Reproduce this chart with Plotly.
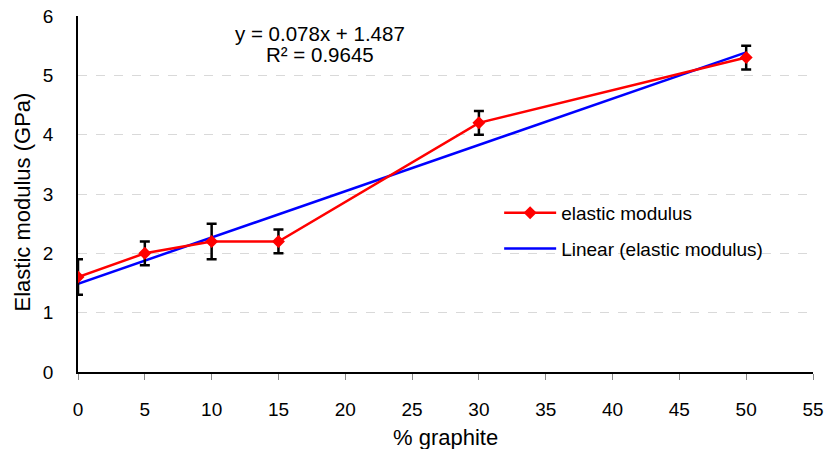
import plotly.graph_objects as go
import numpy as np

graphite = [0, 5, 10, 15, 30, 50]
modulus = [1.6, 2.0, 2.2, 2.2, 4.2, 5.3]
err = [0.3, 0.2, 0.3, 0.2, 0.2, 0.2]
slope = 0.078
intercept = 1.487
r2 = 0.9645

fit_x = [min(graphite), max(graphite)]
fit_y = [slope * v + intercept for v in fit_x]

FAM = "Liberation Sans, Arial, sans-serif"
font = dict(family=FAM, size=19, color="black")

fig = go.Figure()
fig.add_trace(go.Scatter(
    x=fit_x, y=fit_y, mode="lines", name="Linear (elastic modulus)",
    line=dict(color="#0000ff", width=2.5), legendgroup="b", legendrank=2,
))
fig.add_trace(go.Scatter(
    x=graphite, y=modulus, mode="lines+markers", name="elastic modulus",
    line=dict(color="#ff0000", width=2.5),
    marker=dict(symbol="diamond", size=10, color="#ff0000"),
    error_y=dict(type="data", array=err, visible=True, color="black", thickness=2.5, width=5),
    legendgroup="a", legendrank=1,
))

ann = dict(xref="paper", yref="paper", showarrow=False, xanchor="center", yanchor="middle")
fig.add_annotation(x=0.329, y=0.951, text=f"y = {slope}x + {intercept}", font=dict(size=20.5), **ann)
fig.add_annotation(x=0.329, y=0.891, text=f"R² = {r2}", font=dict(size=20.5), **ann)
fig.add_annotation(x=0.5, y=-0.183, text="% graphite", font=dict(size=22), **ann)
fig.add_annotation(x=-0.0762, y=0.479, text="Elastic modulus (GPa)", textangle=-90,
                   font=dict(size=22), **ann)

fig.update_layout(
    width=826, height=449, margin=dict(l=78, r=13, t=16, b=77),
    paper_bgcolor="white", plot_bgcolor="white", font=font,
    showlegend=True,
    legend=dict(x=0.573, y=0.50, xanchor="left", yanchor="top", bgcolor="rgba(0,0,0,0)",
                traceorder="grouped", tracegroupgap=8, itemwidth=52, font=dict(size=19)),
    yaxis2=dict(overlaying="y", side="left", anchor="x", range=[0, 6], dtick=1,
                ticks="outside", ticklen=6, tickcolor="#888", showticklabels=False,
                showgrid=False, showline=False, zeroline=False, automargin=False),
)
fig.update_xaxes(
    range=[0, 55], dtick=5, tick0=0, showline=True, linecolor="black", linewidth=1.5,
    ticks="outside", ticklen=6, tickcolor="#888", showgrid=False, zeroline=False,
    ticklabelstandoff=13, automargin=False,
)
fig.update_yaxes(
    selector=dict(overlaying=None),
    range=[0, 6], dtick=1, showline=True, linecolor="black", linewidth=1.5,
    ticks="outside", ticklen=19, tickcolor="white", showgrid=True, gridcolor="#d9d9d9",
    griddash="dash", zeroline=False, automargin=False,
)
fig.layout.yaxis.update(range=[0, 6], dtick=1, showline=True, linecolor="black", linewidth=1.5,
    ticks="outside", ticklen=19, tickcolor="white", showgrid=True, gridcolor="#d9d9d9",
    griddash="dash", zeroline=False, automargin=False)
fig.write_html("out.html")
